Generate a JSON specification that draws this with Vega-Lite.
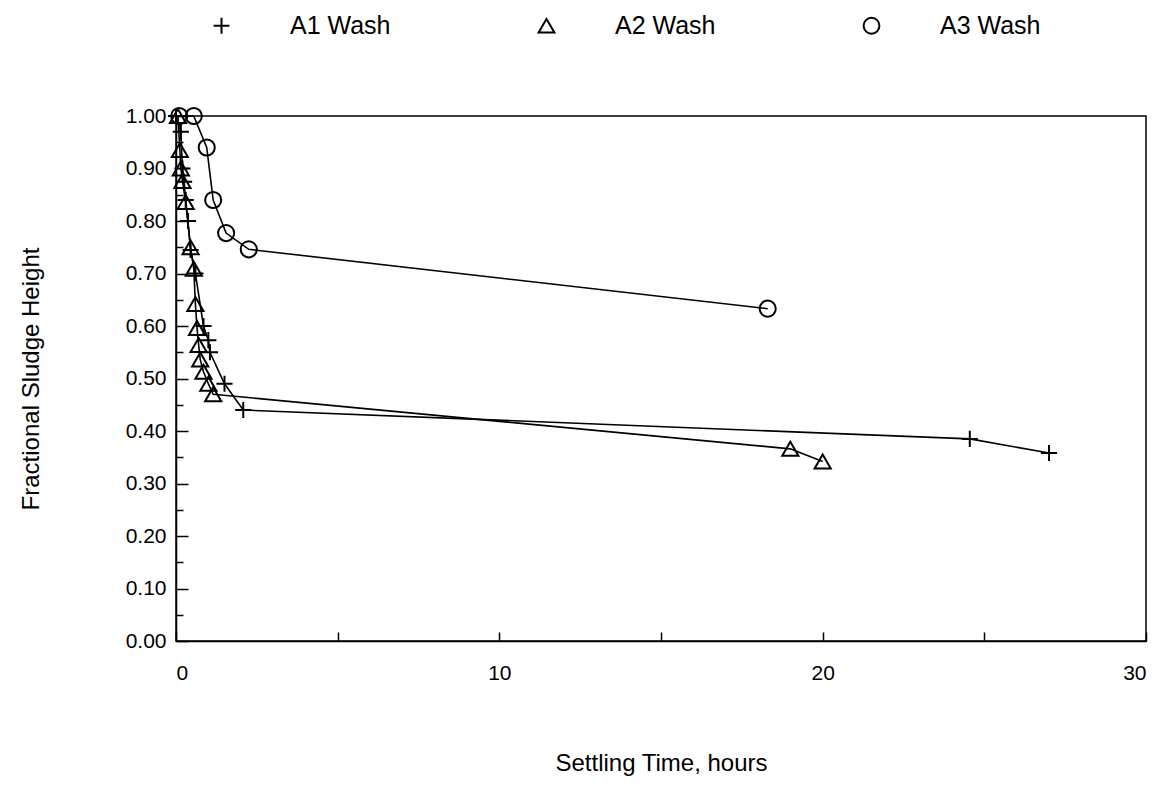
{
  "$schema": "https://vega.github.io/schema/vega-lite/v6.json",
  "width": 970,
  "height": 525,
  "autosize": "none",
  "padding": {"left": 176, "top": 116, "right": 17, "bottom": 163},
  "background": "white",
  "config": {
    "font": "Liberation Sans",
    "view": {"stroke": "black", "strokeWidth": 1.5},
    "axis": {
      "domainColor": "black", "domainWidth": 1.5,
      "tickColor": "black", "tickWidth": 1.5,
      "labelColor": "black", "titleColor": "black",
      "labelFont": "Liberation Sans", "titleFont": "Liberation Sans",
      "labelFontSize": 21, "titleFontSize": 24, "titleFontWeight": "normal",
      "grid": false
    }
  },
  "data": {
    "values": [
      {"series": "A1 Wash", "x": 0.0, "y": 1.0},
      {"series": "A1 Wash", "x": 0.15, "y": 0.97},
      {"series": "A1 Wash", "x": 0.2, "y": 0.9},
      {"series": "A1 Wash", "x": 0.25, "y": 0.875},
      {"series": "A1 Wash", "x": 0.3, "y": 0.84},
      {"series": "A1 Wash", "x": 0.37, "y": 0.8},
      {"series": "A1 Wash", "x": 0.45, "y": 0.745},
      {"series": "A1 Wash", "x": 0.6, "y": 0.7},
      {"series": "A1 Wash", "x": 0.85, "y": 0.6},
      {"series": "A1 Wash", "x": 1.0, "y": 0.573},
      {"series": "A1 Wash", "x": 1.05, "y": 0.55},
      {"series": "A1 Wash", "x": 1.5, "y": 0.49},
      {"series": "A1 Wash", "x": 2.08, "y": 0.44},
      {"series": "A1 Wash", "x": 24.55, "y": 0.385},
      {"series": "A1 Wash", "x": 27.0, "y": 0.358},
      {"series": "A2 Wash", "x": 0.06, "y": 1.0},
      {"series": "A2 Wash", "x": 0.12, "y": 0.935},
      {"series": "A2 Wash", "x": 0.15, "y": 0.9},
      {"series": "A2 Wash", "x": 0.2, "y": 0.876},
      {"series": "A2 Wash", "x": 0.3, "y": 0.836},
      {"series": "A2 Wash", "x": 0.45, "y": 0.75},
      {"series": "A2 Wash", "x": 0.55, "y": 0.709},
      {"series": "A2 Wash", "x": 0.6, "y": 0.642},
      {"series": "A2 Wash", "x": 0.65, "y": 0.596},
      {"series": "A2 Wash", "x": 0.7, "y": 0.564},
      {"series": "A2 Wash", "x": 0.75, "y": 0.536},
      {"series": "A2 Wash", "x": 0.85, "y": 0.513},
      {"series": "A2 Wash", "x": 1.0, "y": 0.49},
      {"series": "A2 Wash", "x": 1.15, "y": 0.47},
      {"series": "A2 Wash", "x": 19.0, "y": 0.366},
      {"series": "A2 Wash", "x": 20.0, "y": 0.342},
      {"series": "A3 Wash", "x": 0.1, "y": 1.0},
      {"series": "A3 Wash", "x": 0.55, "y": 1.0},
      {"series": "A3 Wash", "x": 0.95, "y": 0.94},
      {"series": "A3 Wash", "x": 1.15, "y": 0.84},
      {"series": "A3 Wash", "x": 1.55, "y": 0.777},
      {"series": "A3 Wash", "x": 2.25, "y": 0.746},
      {"series": "A3 Wash", "x": 18.3, "y": 0.633}
    ]
  },
  "encoding": {
    "x": {
      "field": "x", "type": "quantitative",
      "scale": {"domain": [0, 30], "nice": false, "zero": false},
      "axis": {
        "values": [0, 5, 10, 15, 20, 25, 30],
        "labelExpr": "datum.value % 10 === 0 ? datum.label : ''",
        "tickSize": -9,
        "labelPadding": 30,
        "title": "Settling Time, hours",
        "titlePadding": 68
      }
    },
    "y": {
      "field": "y", "type": "quantitative",
      "scale": {"domain": [0, 1], "nice": false},
      "axis": {
        "values": [0, 0.05, 0.1, 0.15, 0.2, 0.25, 0.3, 0.35, 0.4, 0.45, 0.5, 0.55, 0.6, 0.65, 0.7, 0.75, 0.8, 0.85, 0.9, 0.95, 1.0],
        "format": ".2f",
        "labelExpr": "round(datum.value * 20) % 2 === 0 ? datum.label : ''",
        "tickSize": {"condition": {"test": "round(datum.value * 20) % 2 === 0", "value": -12}, "value": -7},
        "labelPadding": 22,
        "title": "Fractional Sludge Height",
        "titlePadding": 82
      }
    }
  },
  "layer": [
    {
      "mark": {"type": "line", "color": "black", "strokeWidth": 1.6},
      "encoding": {
        "detail": {"field": "series", "type": "nominal"},
        "order": {"field": "x", "type": "quantitative"}
      }
    },
    {
      "mark": {"type": "point", "filled": false, "color": "black", "strokeWidth": 2, "opacity": 1, "size": 260},
      "encoding": {
        "shape": {
          "field": "series", "type": "nominal",
          "scale": {"domain": ["A1 Wash", "A2 Wash", "A3 Wash"], "range": ["M-1,0L1,0M0,-1L0,1", "triangle-up", "circle"]},
          "legend": {
            "orient": "none", "direction": "horizontal",
            "legendX": 33, "legendY": -103,
            "title": null, "padding": 0,
            "labelFont": "Liberation Sans", "labelFontSize": 25, "labelColor": "black",
            "labelOffset": 56, "columnPadding": 143,
            "symbolSize": 250, "symbolStrokeWidth": 2,
            "symbolStrokeColor": "black", "symbolFillColor": "transparent"
          }
        }
      }
    }
  ]
}
